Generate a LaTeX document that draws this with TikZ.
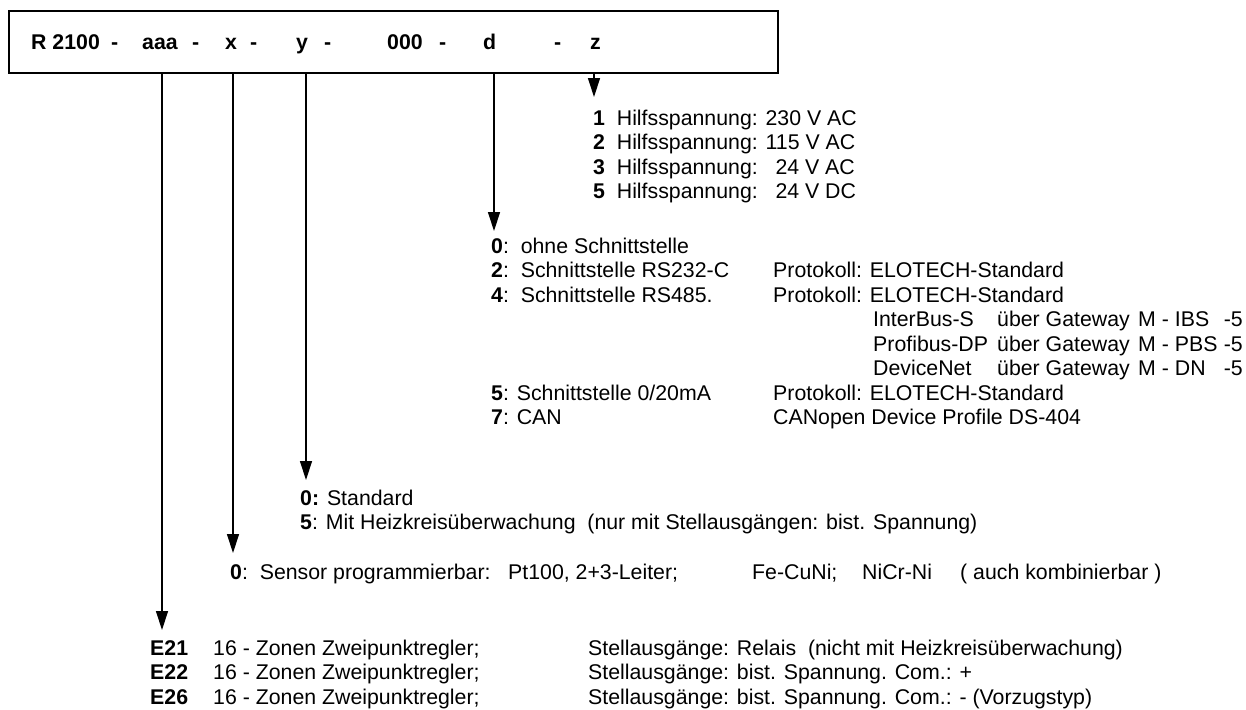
\documentclass[tikz,border=0pt]{standalone}
\usepackage{fontspec}
\setmainfont{Liberation Sans}
\usetikzlibrary{arrows.meta}
\begin{document}
\begin{tikzpicture}[x=1pt,y=-1pt,
  txt/.style={anchor=base west,inner sep=0pt,font=\fontsize{21.3}{24.5}\selectfont},
  rtxt/.style={txt,anchor=base east},
  btxt/.style={txt,font=\fontsize{21.3}{24.5}\selectfont\bfseries},
  conn/.style={line width=1.3pt,-{Triangle[length=19pt,width=12pt]}},
  codebox/.style={draw,line width=2pt,anchor=north west,inner sep=0pt,minimum width=769pt,minimum height=62pt}]
\useasboundingbox (0,0) rectangle (1246,709);
% code box
\node[codebox] (box) at (8,10) {};
\node[btxt] (c1) at (31,50) {R 2100};
\node[btxt] (c2) at (111,50) {-};
\node[btxt] (c3) at (142,50) {aaa};
\node[btxt] (c4) at (192,50) {-};
\node[btxt] (c5) at (225,50) {x};
\node[btxt] (c6) at (250,50) {-};
\node[btxt] (c7) at (296,50) {y};
\node[btxt] (c8) at (324,50) {-};
\node[btxt] (c9) at (387,50) {000};
\node[btxt] (c10) at (439,50) {-};
\node[btxt] (c11) at (483,50) {d};
\node[btxt] (c12) at (554,50) {-};
\node[btxt] (c13) at (590,50) {z};
% arrow tips
\coordinate (tz) at (594,97);
\coordinate (td) at (494,231);
\coordinate (ty) at (306,480);
\coordinate (tx) at (233,553);
\coordinate (ta) at (162,630);
\draw[conn] (box.south -| tz) -- (tz);
\draw[conn] (box.south -| td) -- (td);
\draw[conn] (box.south -| ty) -- (ty);
\draw[conn] (box.south -| tx) -- (tx);
\draw[conn] (box.south -| ta) -- (ta);
% z
\node[txt] (z1) at (593,125) {\textbf{1}\ \ Hilfsspannung: 230 V AC};
\node[txt] (z2) at (593,149.5) {\textbf{2}\ \ Hilfsspannung: 115 V AC};
\node[txt] (z3) at (593,174) {\textbf{3}\ \ Hilfsspannung:\ \ \ 24 V AC};
\node[txt] (z5) at (593,198.5) {\textbf{5}\ \ Hilfsspannung:\ \ \ 24 V DC};
% d
\node[txt] (d0) at (491,253) {\textbf{0}:\ \ ohne Schnittstelle};
\node[txt] (d2) at (491,277.5) {\textbf{2}:\ \ Schnittstelle RS232-C};
\node[txt] (p2) at (773,277.5) {Protokoll: ELOTECH-Standard};
\node[txt] (d4) at (491,302) {\textbf{4}:\ \ Schnittstelle RS485.};
\node[txt] (p4) at (773,302) {Protokoll: ELOTECH-Standard};
\node[txt] (g1a) at (873,326.5) {InterBus-S};
\node[txt] (g1b) at (997,326.5) {über Gateway};
\node[txt] (g1c) at (1138,326.5) {M - IBS};
\node[rtxt] (g1d) at (1243,326.5) {-5};
\node[txt] (g2a) at (873,351) {Profibus-DP};
\node[txt] (g2b) at (997,351) {über Gateway};
\node[txt] (g2c) at (1138,351) {M - PBS};
\node[rtxt] (g2d) at (1243,351) {-5};
\node[txt] (g3a) at (873,375.5) {DeviceNet};
\node[txt] (g3b) at (997,375.5) {über Gateway};
\node[txt] (g3c) at (1138,375.5) {M - DN};
\node[rtxt] (g3d) at (1243,375.5) {-5};
\node[txt] (d5) at (491,400) {\textbf{5}: Schnittstelle 0/20mA};
\node[txt] (p5) at (773,400) {Protokoll: ELOTECH-Standard};
\node[txt] (d7) at (491,424.5) {\textbf{7}: CAN};
\node[txt] (p7) at (773,424.5) {CANopen Device Profile DS-404};
% y
\node[txt] (y0) at (300,505) {\textbf{0:} Standard};
\node[txt] (y5) at (300,529.5) {\textbf{5}: Mit Heizkreisüberwachung\ \ (nur mit Stellausgängen: bist. Spannung)};
% x
\node[txt] (x0) at (230,579) {\textbf{0}:\ \ Sensor programmierbar:};
\node[txt] (x0b) at (508,579) {Pt100, 2+3-Leiter;};
\node[txt] (x0c) at (752,579) {Fe-CuNi;};
\node[txt] (x0d) at (862,579) {NiCr-Ni};
\node[txt] (x0e) at (960,579) {( auch kombinierbar )};
% aaa
\node[btxt] (e21) at (150,655) {E21};
\node[txt] (e21b) at (213,655) {16 - Zonen Zweipunktregler;};
\node[txt] (e21c) at (588,655) {Stellausgänge: Relais\ \ (nicht mit Heizkreisüberwachung)};
\node[btxt] (e22) at (150,679.5) {E22};
\node[txt] (e22b) at (213,679.5) {16 - Zonen Zweipunktregler;};
\node[txt] (e22c) at (588,679.5) {Stellausgänge: bist. Spannung. Com.: +};
\node[btxt] (e26) at (150,704) {E26};
\node[txt] (e26b) at (213,704) {16 - Zonen Zweipunktregler;};
\node[txt] (e26c) at (588,704) {Stellausgänge: bist. Spannung. Com.: - (Vorzugstyp)};
\end{tikzpicture}
\end{document}
